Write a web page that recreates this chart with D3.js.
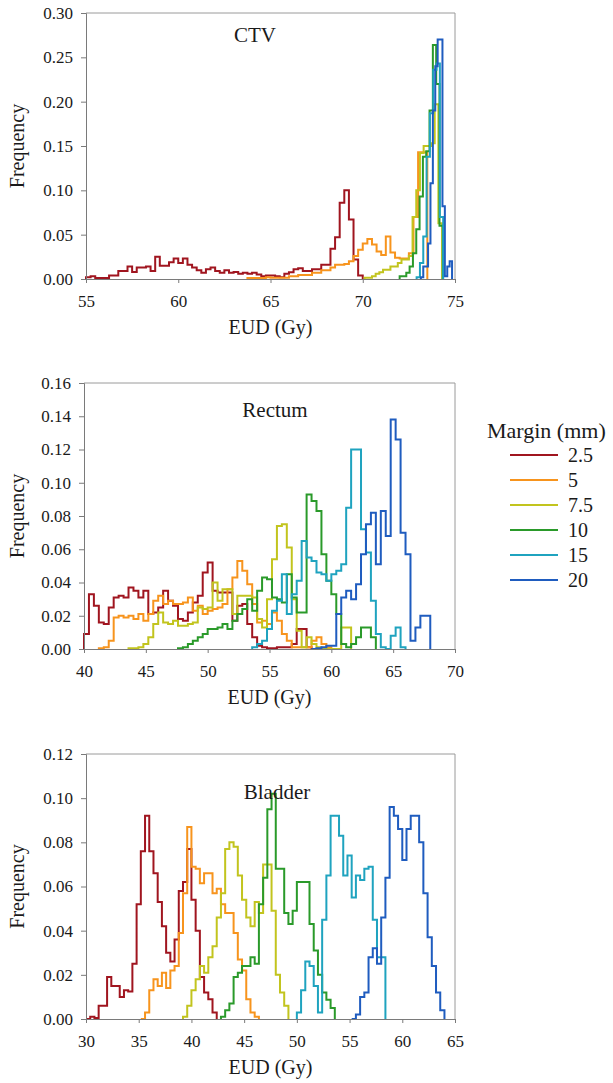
<!DOCTYPE html>
<html><head><meta charset="utf-8">
<script src="https://cdn.jsdelivr.net/npm/d3@7"></script>
<style>
body{margin:0;background:#fff}
svg{display:block}
text{font-family:"Liberation Serif","Times New Roman",serif;fill:#1a1a1a}
</style>
</head><body><svg id="c" width="613" height="1083"></svg>
<script>
// ---------- data ----------
const margins = ["2.5", "5", "7.5", "10", "15", "20"];
const colors = ["#a0151f", "#f7941d", "#c2c41e", "#2a9a2a", "#1fa3bf", "#1f5cbf"];

// CTV
const ctvXTicks = [55, 60, 65, 70, 75];
const ctvYTicks = [0, 0.05, 0.10, 0.15, 0.20, 0.25, 0.30];
const ctvStarts = [55, 63.75, 70.1, 72.0, 72.92, 73.15];
const ctvWidths = [0.25, 0.25, 0.2, 0.18, 0.18, 0.13];
const ctv25 = [0.002,0.003,0.001,0.001,0.001,0.004,0.004,0.009,0.009,0.014,
  0.008,0.013,0.013,0.014,0.009,0.025,0.015,0.015,0.019,0.023,
  0.018,0.023,0.016,0.013,0.010,0.007,0.011,0.013,0.009,0.007,
  0.010,0.007,0.008,0.006,0.007,0.006,0.007,0.005,0.003,0.004,
  0.004,0.003,0.002,0.006,0.0075,0.011,0.012,0.009,0.009,0.011,
  0.011,0.016,0.016,0.034,0.047,0.086,0.100,0.067,0.022,0.004];
const ctv5 = [0.001,0.001,0.001,0.001,0.002,0.0015,0.0015,0.0015,0.0015,
  0.003,0.003,0.0045,0.0045,0.0045,0.007,0.007,0.01,0.01,0.013,0.016,0.016,
  0.017,0.02,0.026,0.033,0.040,0.045,0.039,0.031,0.027,0.048,0.030,0.024,
  0.023,0.023,0.029,0.07,0.143,0.143];
const ctv75 = [0.0015,0.0015,0.003,0.006,0.0075,0.0105,0.0105,0.014,0.014,0.018,
  0.022,0.022,0.026,0.07,0.10,0.142,0.15,0.15,0.153,0.197,0.063];
const ctv10 = [0.003,0.003,0.007,0.014,0.029,0.056,0.093,0.138,0.144,0.19,0.264,0.22,0.06];
const ctv15 = [0.002,0.018,0.048,0.138,0.187,0.236,0.243,0.07];
const ctv20 = [0.002,0.014,0.014,0.04,0.108,0.19,0.24,0.27,0.27,0.082,0.003,0.014,0.02];

// Rectum
const recXTicks = [40, 45, 50, 55, 60, 65, 70];
const recYTicks = [0, 0.02, 0.04, 0.06, 0.08, 0.10, 0.12, 0.14, 0.16];
const recStarts = [40.0, 41.2, 43.6, 47.6, 53.6, 58.4];
const recWidths = [0.4, 0.4, 0.4, 0.4, 0.4, 0.4];
const rec25 = [0.009,0.033,0.026,0.016,0.015,0.025,0.031,0.032,0.031,0.037,
  0.035,0.031,0.035,0.021,0.022,0.025,0.035,0.029,0.026,0.018,
  0.017,0.022,0.028,0.032,0.046,0.052,0.035,0.034,0.034,0.034,
  0.017,0.026,0.027,0.015,0.007,0.002,0.001,0.0005,0.0005,0.001,
  0.001,0.001,0.003,0.012,0.012,0.001];
const rec5 = [0.0005,0.001,0.005,0.019,0.020,0.019,0.020,0.018,0.021,0.017,
  0.021,0.029,0.032,0.027,0.029,0.027,0.027,0.028,0.031,0.023,
  0.026,0.021,0.023,0.024,0.025,0.027,0.036,0.043,0.053,0.047,
  0.039,0.027,0.016,0.017,0.015,0.022,0.017,0.009,0.005,0.001,
  0.001,0.001,0.001,0.005,0.007,0.003,0.001];
const rec75 = [0.0005,0.0005,0.001,0.003,0.007,0.015,0.022,0.016,0.015,0.017,
  0.014,0.014,0.015,0.016,0.025,0.024,0.025,0.040,0.029,0.036,
  0.036,0.021,0.032,0.032,0.032,0.031,0.018,0.013,0.03,0.054,
  0.074,0.075,0.061,0.030,0.011,0.001,0.007,0.003,0.001,0,
  0,0,0,0.013,0.013];
const rec10 = [0.0005,0.001,0.003,0.005,0.007,0.009,0.012,0.012,0.013,0.015,
  0.012,0.017,0.021,0.024,0.030,0.023,0.035,0.043,0.042,0.031,
  0.030,0.028,0.045,0.031,0.022,0.022,0.093,0.089,0.083,0.057,
  0.041,0.033,0.021,0.003,0.001,0.003,0.007,0.013,0.013,0.007];
const rec15 = [0.001,0.003,0.005,0.012,0.023,0.029,0.045,0.021,0.033,0.041,
  0.065,0.055,0.053,0.046,0.045,0.041,0.045,0.047,0.051,0.085,
  0.12,0.12,0.072,0.058,0.029,0.009,0.001,0,0.008,0.013,0.001];
const rec20 = [0,0.0005,0.001,0.002,0.002,0.021,0.031,0.035,0.030,0.039,
  0.057,0.075,0.082,0.051,0.083,0.068,0.138,0.126,0.070,0.057,
  0.005,0.013,0.02,0.02];

// Bladder
const blaXTicks = [30, 35, 40, 45, 50, 55, 60, 65];
const blaYTicks = [0, 0.02, 0.04, 0.06, 0.08, 0.10, 0.12];
const blaStarts = [30.0, 35.2, 39.2, 42.8, 50.0, 55.2];
const blaWidths = [0.4, 0.4, 0.4, 0.4, 0.4, 0.4];
const bla25 = [0,0.001,0.0005,0.006,0.006,0.019,0.015,0.015,0.010,0.013,
  0.0125,0.025,0.052,0.076,0.092,0.076,0.066,0.053,0.042,0.030,
  0.026,0.036,0.058,0.062,0.077,0.054,0.040,0.019,0.012,0.009,0.003];
const bla5 = [0,0.003,0.013,0.018,0.015,0.021,0.014,0.022,0.024,0.039,
  0.057,0.087,0.069,0.068,0.0615,0.066,0.066,0.057,0.059,0.052,
  0.048,0.048,0.039,0.027,0.022,0.009,0.003,0.001];
const bla75 = [0.001,0.006,0.013,0.018,0.024,0.021,0.028,0.033,0.046,0.057,
  0.077,0.080,0.078,0.065,0.054,0.046,0.042,0.053,0.048,0.07,
  0.07,0.049,0.02,0.012,0.006];
const bla10 = [0.001,0.004,0.007,0.019,0.021,0.024,0.024,0.028,0.025,0.052,
  0.064,0.095,0.102,0.068,0.068,0.048,0.043,0.049,0.062,0.062,
  0.062,0.043,0.031,0.02,0.012,0.0087,0.005];
const bla15 = [0.003,0.013,0.026,0.024,0.015,0.003,0.045,0.065,0.092,0.092,
  0.083,0.065,0.074,0.055,0.065,0.063,0.068,0.069,0.045,0.028,0.028];
const bla20 = [0,0.002,0.010,0.012,0.028,0.032,0.025,0.046,0.064,0.096,
  0.092,0.086,0.072,0.086,0.092,0.092,0.080,0.057,0.037,0.024,0.012,0.004];

// ---------- layout ----------
const panels = [
  {title: "CTV", tx: 255, ty: 42, left: 86, right: 455, top: 13, bottom: 279,
   xDomain: [55, 75], xTicks: ctvXTicks, yDomain: [0, 0.30], yTicks: ctvYTicks,
   starts: ctvStarts, widths: ctvWidths, series: [ctv25, ctv5, ctv75, ctv10, ctv15, ctv20]},
  {title: "Rectum", tx: 275, ty: 417, left: 84, right: 455, top: 383, bottom: 649,
   xDomain: [40, 70], xTicks: recXTicks, yDomain: [0, 0.16], yTicks: recYTicks,
   starts: recStarts, widths: recWidths, series: [rec25, rec5, rec75, rec10, rec15, rec20]},
  {title: "Bladder", tx: 277, ty: 799, left: 86, right: 455, top: 754, bottom: 1019,
   xDomain: [30, 65], xTicks: blaXTicks, yDomain: [0, 0.12], yTicks: blaYTicks,
   starts: blaStarts, widths: blaWidths, series: [bla25, bla5, bla75, bla10, bla15, bla20]}
];

const svg = d3.select("#c");

panels.forEach(p => {
  const x = d3.scaleLinear().domain(p.xDomain).range([p.left, p.right]);
  const y = d3.scaleLinear().domain(p.yDomain).range([p.bottom, p.top]);
  const g = svg.append("g");

  // frame (top & right)
  g.append("path")
    .attr("d", `M${p.left},${p.top}H${p.right}V${p.bottom}`)
    .attr("fill", "none").attr("stroke", "#9a9a9a").attr("stroke-width", 1);

  // series
  const line = d3.line().x(d => x(d[0])).y(d => y(d[1])).curve(d3.curveStepAfter);
  p.series.forEach((vals, si) => {
    const s = p.starts[si], w = p.widths[si];
    const pts = [[s, 0]];
    vals.forEach((v, i) => pts.push([s + i * w, v]));
    pts.push([s + vals.length * w, 0]);
    g.append("path").attr("d", line(pts))
      .attr("fill", "none").attr("stroke", colors[si])
      .attr("stroke-width", 2).attr("stroke-linejoin", "miter");
  });

  // axes
  const ya = g.append("g").attr("transform", `translate(${p.left},0)`)
    .call(d3.axisLeft(y).tickValues(p.yTicks).tickFormat(d3.format(".2f")).tickSize(5).tickPadding(8));
  const xa = g.append("g").attr("transform", `translate(0,${p.bottom})`)
    .call(d3.axisBottom(x).tickValues(p.xTicks).tickFormat(d3.format("d")).tickSize(4).tickPadding(12));
  [ya, xa].forEach(a => {
    a.select(".domain").attr("stroke", "#7a7a7a");
    a.selectAll(".tick line").attr("stroke", "#7a7a7a");
    a.selectAll("text").attr("font-size", 17).attr("font-family", '"Liberation Serif",serif').attr("fill", "#1a1a1a");
  });

  // titles
  g.append("text").attr("x", p.tx).attr("y", p.ty).attr("text-anchor", "middle")
    .attr("font-size", 21).text(p.title);
  g.append("text").attr("x", (p.left + p.right) / 2).attr("y", p.bottom + 55)
    .attr("text-anchor", "middle").attr("font-size", 20).text("EUD (Gy)");
  g.append("text").attr("transform", `translate(24,${(p.top + p.bottom) / 2}) rotate(-90)`)
    .attr("text-anchor", "middle").attr("font-size", 20).text("Frequency");
});

// legend
const lg = svg.append("g");
lg.append("text").attr("x", 487).attr("y", 438).attr("font-size", 22).text("Margin (mm)");
margins.forEach((m, i) => {
  const cy = 455 + i * 25;
  lg.append("line").attr("x1", 510).attr("x2", 558).attr("y1", cy).attr("y2", cy)
    .attr("stroke", colors[i]).attr("stroke-width", 2);
  lg.append("text").attr("x", 568).attr("y", cy + 7).attr("font-size", 20).text(m);
});
</script>
</body></html>
